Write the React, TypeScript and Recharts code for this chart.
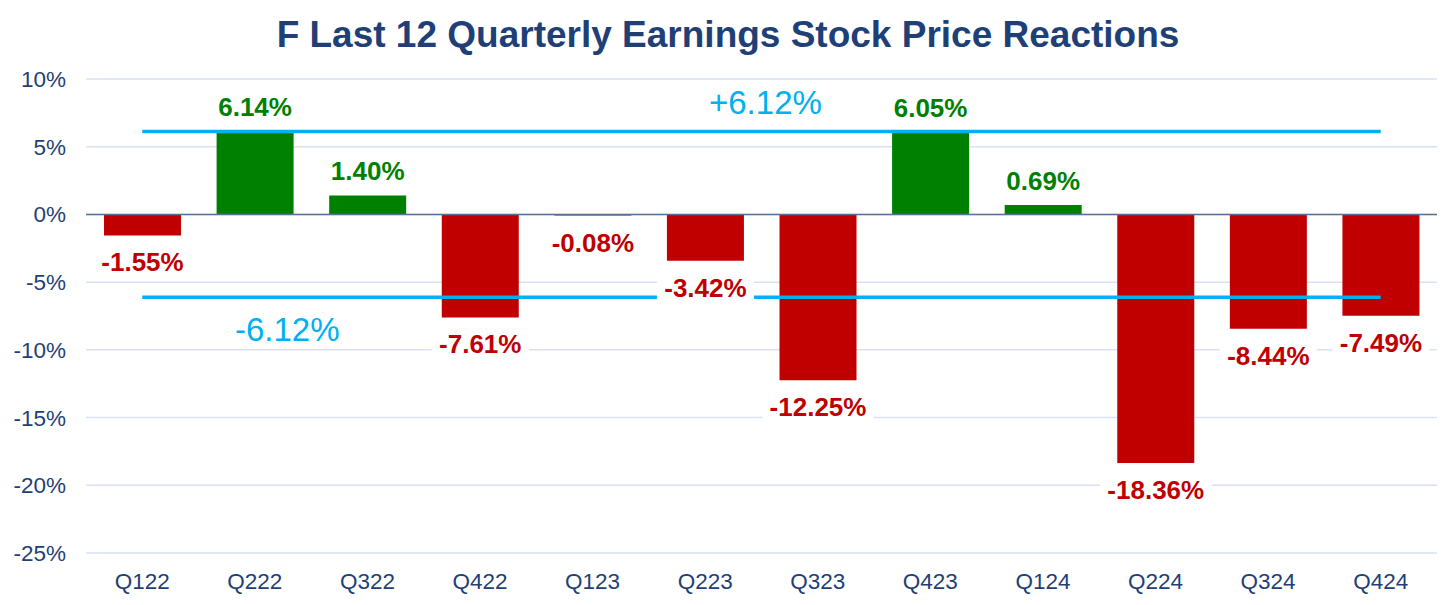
import { Bar, BarChart, CartesianGrid, Cell, LabelList, ReferenceLine, XAxis, YAxis } from 'recharts';

const quarters = ['Q122', 'Q222', 'Q322', 'Q422', 'Q123', 'Q223', 'Q323', 'Q423', 'Q124', 'Q224', 'Q324', 'Q424'];
const reactions = [-1.55, 6.14, 1.4, -7.61, -0.08, -3.42, -12.25, 6.05, 0.69, -18.36, -8.44, -7.49];
const yTicks = [10, 5, 0, -5, -10, -15, -20, -25];
const avgUp = 6.12;
const avgDown = -6.12;

const GREEN = '#008000';
const RED = '#C00000';
const NAVY = '#1F3F77';
const CYAN = '#00B0F0';
const FONT = '"Liberation Sans", Arial, sans-serif';

const data = quarters.map((q, i) => ({ quarter: q, value: reactions[i] }));

// label above positive bars, below negative bars, on a white box
function ValueLabel(props: any) {
    const { x, y, width, height, value } = props;
    const cx = x + width / 2;
    const neg = value < 0;
    const top = Math.min(y, y + height);
    const bottom = Math.max(y, y + height);
    const cy = neg ? bottom + 27 : top - 24;
    const text = `${value.toFixed(2)}%`;
    const w = text.length * 14.5 + 10;
    return (
        <g>
            <rect x={cx - w / 2} y={cy - 16} width={w} height={32} fill="#fff" />
            <text
                x={cx}
                y={cy}
                textAnchor="middle"
                dominantBaseline="central"
                fontFamily={FONT}
                fontWeight="bold"
                fontSize={26}
                fill={neg ? RED : GREEN}
            >
                {text}
            </text>
        </g>
    );
}

export default function App() {
    return (
        <div style={{ position: 'absolute', left: 0, top: 0, width: 1456, height: 605, background: '#fff' }}>
            <div
                style={{
                    position: 'absolute',
                    left: 0,
                    top: 12,
                    width: 1456,
                    textAlign: 'center',
                    fontFamily: FONT,
                    fontWeight: 'bold',
                    fontSize: 37,
                    lineHeight: '46px',
                    color: NAVY,
                }}
            >
                F Last 12 Quarterly Earnings Stock Price Reactions
            </div>
            <BarChart
                width={1456}
                height={605}
                data={data}
                margin={{ top: 79, right: 19, bottom: 0, left: 0 }}
                barCategoryGap="16%"
            >
                <CartesianGrid vertical={false} stroke="#D9E2F3" strokeWidth={1.5} />
                <XAxis
                    dataKey="quarter"
                    axisLine={false}
                    tickLine={false}
                    height={52}
                    tickMargin={14}
                    tick={{ fill: NAVY, fontSize: 22.5, fontFamily: FONT }}
                />
                <XAxis xAxisId="labels" dataKey="quarter" hide />
                <YAxis
                    width={86}
                    domain={[-25, 10]}
                    ticks={yTicks}
                    axisLine={false}
                    tickLine={false}
                    tickMargin={14}
                    tickFormatter={(v: number) => `${v}%`}
                    tick={{ fill: NAVY, fontSize: 22.5, fontFamily: FONT }}
                />
                <Bar dataKey="value" isAnimationActive={false}>
                    {data.map((d, i) => (
                        <Cell key={`c-${i}`} fill={d.value < 0 ? RED : GREEN} />
                    ))}
                </Bar>
                <ReferenceLine y={0} stroke="#5B6F93" strokeWidth={1.5} />
                <ReferenceLine
                    segment={[
                        { x: quarters[0], y: avgUp },
                        { x: quarters[quarters.length - 1], y: avgUp },
                    ]}
                    stroke={CYAN}
                    strokeWidth={3.5}
                />
                <ReferenceLine
                    segment={[
                        { x: quarters[0], y: avgDown },
                        { x: quarters[quarters.length - 1], y: avgDown },
                    ]}
                    stroke={CYAN}
                    strokeWidth={3.5}
                />
                <Bar xAxisId="labels" dataKey="value" fill="none" isAnimationActive={false} legendType="none">
                    <LabelList dataKey="value" content={ValueLabel} />
                </Bar>
            </BarChart>
            <div style={{ position: 'absolute', left: 709, top: 84, fontFamily: FONT, fontSize: 33, lineHeight: '38px', color: CYAN }}>
                +6.12%
            </div>
            <div style={{ position: 'absolute', left: 235, top: 311, fontFamily: FONT, fontSize: 33, lineHeight: '38px', color: CYAN }}>
                -6.12%
            </div>
        </div>
    );
}
